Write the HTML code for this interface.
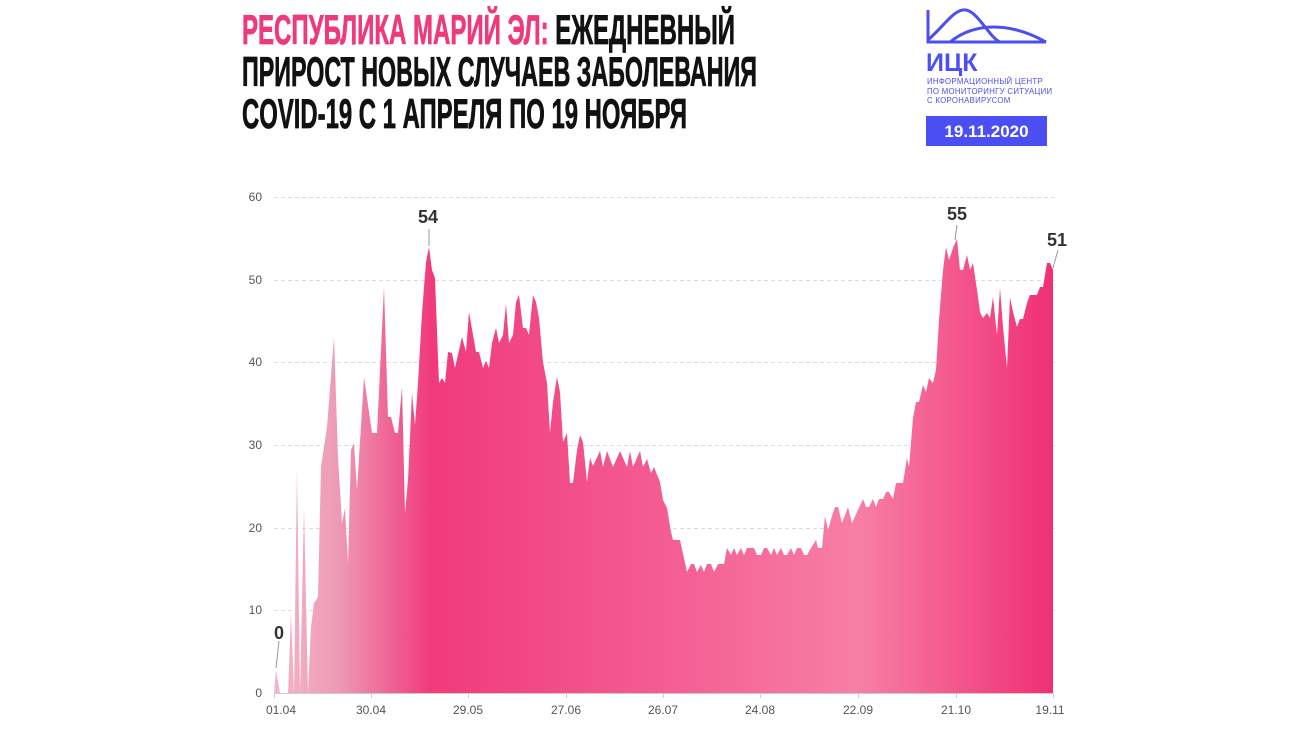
<!DOCTYPE html>
<html><head><meta charset="utf-8"><style>
html,body{margin:0;padding:0;background:#fff;}
svg{display:block;}
</style></head><body>
<svg width="1300" height="734" viewBox="0 0 1300 734" xmlns="http://www.w3.org/2000/svg" font-family="Liberation Sans, sans-serif">
<defs>
<linearGradient id="g" x1="276" y1="0" x2="1053" y2="0" gradientUnits="userSpaceOnUse">
<stop offset="0" stop-color="#f3b6c8"/>
<stop offset="0.08" stop-color="#ee9ab5"/>
<stop offset="0.2" stop-color="#f03a7b"/>
<stop offset="0.5" stop-color="#f45d92"/>
<stop offset="0.75" stop-color="#f77fa5"/>
<stop offset="1" stop-color="#f02f75"/>
</linearGradient>
</defs>
<g font-weight="bold" font-size="42" stroke-width="0.8">
<text x="242" y="44" textLength="493" lengthAdjust="spacingAndGlyphs"><tspan fill="#ee3a7b" stroke="#ee3a7b">РЕСПУБЛИКА МАРИЙ ЭЛ:</tspan><tspan fill="#111" stroke="#111"> ЕЖЕДНЕВНЫЙ</tspan></text>
<text x="242" y="86" textLength="515" lengthAdjust="spacingAndGlyphs" fill="#111" stroke="#111">ПРИРОСТ НОВЫХ СЛУЧАЕВ ЗАБОЛЕВАНИЯ</text>
<text x="242" y="128" textLength="445" lengthAdjust="spacingAndGlyphs" fill="#111" stroke="#111">COVID-19 С 1 АПРЕЛЯ ПО 19 НОЯБРЯ</text>
</g>
<!-- logo -->
<g stroke="#4b4ef0" stroke-width="3" fill="none">
<path d="M928 10 V42 H1046"/>
<path d="M928 40 C945 25 955 8 966 10 C978 12 990 38 1000 42"/>
<path d="M950 42 C975 22 1010 22 1046 42"/>
</g>
<text x="926" y="71" font-size="25" font-weight="bold" fill="#4b4ef0">ИЦК</text>
<g font-size="7.8" fill="#4b4ef0" letter-spacing="0.3">
<text x="927" y="84">ИНФОРМАЦИОННЫЙ ЦЕНТР</text>
<text x="927" y="94">ПО МОНИТОРИНГУ СИТУАЦИИ</text>
<text x="927" y="103">С КОРОНАВИРУСОМ</text>
</g>
<rect x="926" y="116" width="121" height="30" fill="#4b4ef0"/>
<text x="986.5" y="137" font-size="17" font-weight="bold" fill="#fff" text-anchor="middle">19.11.2020</text>
<!-- grid -->
<g stroke="#ddd" stroke-dasharray="4,3" stroke-width="1">
<line x1="274" y1="197.5" x2="1055" y2="197.5"/>
<line x1="274" y1="280.5" x2="1055" y2="280.5"/>
<line x1="274" y1="362.5" x2="1055" y2="362.5"/>
<line x1="274" y1="445.5" x2="1055" y2="445.5"/>
<line x1="274" y1="528.5" x2="1055" y2="528.5"/>
<line x1="274" y1="610.5" x2="1055" y2="610.5"/>
</g>
<g font-size="12" fill="#555" text-anchor="end">
<text x="262" y="201">60</text><text x="262" y="284">50</text><text x="262" y="366">40</text>
<text x="262" y="449">30</text><text x="262" y="532">20</text><text x="262" y="614">10</text><text x="262" y="697">0</text>
</g>
<polygon fill="url(#g)" points="274,693 276,670 280,693 288,693 291,613 294,693 297,467 300,693 304,508 308,693 311,627 314,603 318,597 321,467 327,427 334,337 338,457 342,523 345,508 348,563 351,450 354,443 357,490 364,377 372,433 377,433 384,287 388,417 391,417 395,433 398,433 402,387 405,513 408,480 412,393 415,425 418,383 422,313 426,262 429,247 432,270 435,278 439,383 442,378 445,383 448,352 452,353 455,368 462,337 466,352 469,312 476,352 479,352 483,368 486,361 489,368 492,343 496,328 499,343 503,335 506,304 509,343 513,335 516,302 519,295 523,328 526,328 529,335 533,295 536,302 539,318 543,362 547,383 550,433 553,402 557,377 560,392 563,442 567,433 570,483 573,483 577,450 580,435 583,442 587,482 590,458 593,466 600,451 603,467 607,451 613,467 620,451 627,467 630,451 633,467 640,451 643,467 647,459 651,473 654,467 660,482 663,500 667,508 671,532 673,540 680,540 687,572 691,564 694,564 697,572 701,565 704,572 707,564 711,564 714,572 718,564 724,564 727,548 731,555 734,548 737,555 741,548 744,555 747,548 754,548 757,555 761,555 764,548 767,548 771,555 774,548 777,555 781,548 784,555 787,555 791,548 794,555 797,548 801,548 804,555 807,555 811,548 816,540 818,548 822,548 825,516 828,530 832,516 835,507 838,507 842,523 848,507 852,523 863,499 866,507 869,507 873,499 876,507 879,499 883,499 886,492 889,492 893,499 896,483 903,483 907,458 909,467 913,418 916,402 919,402 923,385 926,392 929,378 933,383 936,370 939,320 943,270 946,247 949,260 953,248 957,239 960,270 963,270 967,255 970,270 973,263 977,290 980,312 983,318 987,313 990,318 993,297 997,335 1000,288 1003,327 1007,368 1010,297 1013,312 1017,327 1020,319 1023,319 1027,303 1030,295 1037,295 1040,287 1043,287 1047,263 1050,263 1053,270 1053,693"/>
<line x1="274" y1="693.5" x2="1054" y2="693.5" stroke="#ccc"/>
<g stroke="#ccc"><line x1="274.5" y1="693" x2="274.5" y2="698"/><line x1="371.5" y1="693" x2="371.5" y2="698"/><line x1="468.5" y1="693" x2="468.5" y2="698"/><line x1="566.5" y1="693" x2="566.5" y2="698"/><line x1="663.5" y1="693" x2="663.5" y2="698"/><line x1="760.5" y1="693" x2="760.5" y2="698"/><line x1="858.5" y1="693" x2="858.5" y2="698"/><line x1="956.5" y1="693" x2="956.5" y2="698"/><line x1="1053.5" y1="693" x2="1053.5" y2="698"/></g>
<g font-size="12" fill="#555" text-anchor="middle">
<text x="281" y="714">01.04</text><text x="371" y="714">30.04</text><text x="468" y="714">29.05</text><text x="566" y="714">27.06</text><text x="663" y="714">26.07</text><text x="760" y="714">24.08</text><text x="858" y="714">22.09</text><text x="956" y="714">21.10</text><text x="1050" y="714">19.11</text>
</g>
<g stroke="#999" stroke-width="1">
<line x1="279" y1="641" x2="276" y2="668"/>
<line x1="429" y1="229" x2="429" y2="246"/>
<line x1="957" y1="225" x2="955" y2="240"/>
<line x1="1058" y1="250" x2="1053" y2="268"/>
</g>
<g font-size="18" font-weight="bold" fill="#333" text-anchor="middle">
<text x="279" y="639">0</text>
<text x="428" y="223">54</text>
<text x="957" y="220">55</text>
<text x="1057" y="246">51</text>
</g>
</svg>
</body></html>
